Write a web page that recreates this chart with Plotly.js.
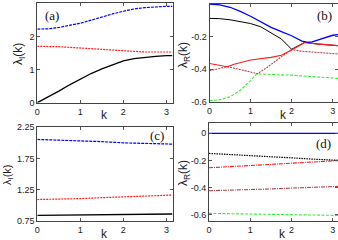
<!DOCTYPE html>
<html><head><meta charset="utf-8">
<script src="https://cdn.plot.ly/plotly-3.0.1.min.js"></script>
<style>html,body{margin:0;padding:0;background:#fff}#c{width:338px;height:240px}</style>
</head><body><div id="c"></div>
<script>
// ---- data ----
const PI = 3.14159;
// panel (a): imaginary parts
const kA = [0,0.25,0.5,0.75,1,1.25,1.5,1.75,2,2.25,2.5,2.75,3,PI];
const aBlack = [0,0.17,0.35,0.54,0.72,0.88,1.02,1.15,1.26,1.33,1.37,1.40,1.42,1.42];
const aRed   = [1.70,1.70,1.69,1.67,1.65,1.62,1.59,1.57,1.55,1.54,1.53,1.53,1.53,1.53];
const aBlue  = [2.22,2.23,2.27,2.33,2.40,2.49,2.59,2.68,2.76,2.83,2.87,2.90,2.91,2.91];
// panel (b): real parts
const kBblue = [0,0.25,0.5,0.75,1,1.25,1.5,1.75,2,2.25,2.4,2.5,2.75,3,PI];
const bBlue  = [0,-0.005,-0.02,-0.045,-0.075,-0.108,-0.143,-0.17,-0.195,-0.228,-0.235,-0.232,-0.21,-0.192,-0.188];
const kBblack = [0,0.25,0.5,0.75,1,1.25,1.5,1.75,2,2.15,2.32,2.6,3,PI];
const bBlack  = [-0.088,-0.09,-0.097,-0.107,-0.12,-0.14,-0.175,-0.215,-0.278,-0.26,-0.236,-0.245,-0.254,-0.256];
const kBred = [0,0.2,0.43,0.6,1,1.5,1.75,2,2.15,2.32,2.6,3,PI];
const bRed  = [-0.365,-0.373,-0.385,-0.37,-0.344,-0.328,-0.315,-0.282,-0.26,-0.236,-0.245,-0.254,-0.256];
const kBbrown = [0,0.2,0.43,0.7,1,1.17,1.4,1.6,1.8,2,2.25,2.5,2.75,3,PI];
const bBrown  = [-0.41,-0.397,-0.385,-0.40,-0.42,-0.428,-0.39,-0.35,-0.315,-0.28,-0.29,-0.295,-0.30,-0.305,-0.307];
const kBgreen = [0,0.25,0.5,0.75,1,1.15,1.5,2,2.5,3,PI];
const bGreen  = [-0.594,-0.588,-0.57,-0.53,-0.47,-0.428,-0.433,-0.437,-0.446,-0.455,-0.457];
// panel (c): imaginary parts
const kC = [0,0.5,1,1.5,2,2.5,3,PI];
const cBlue  = [2.055,2.045,2.035,2.02,2.0,1.99,1.98,1.98];
const cRed   = [1.09,1.095,1.105,1.12,1.135,1.15,1.16,1.162];
const cBlack = [0.835,0.84,0.845,0.85,0.853,0.856,0.858,0.858];
// panel (d): real parts
const kD = [0,0.5,1,1.5,2,2.5,3,PI];
const dBlue  = [0,0,0,0,0,0,0,0];
const dBlack = [-0.148,-0.155,-0.163,-0.172,-0.181,-0.19,-0.197,-0.199];
const dRed   = [-0.254,-0.247,-0.238,-0.229,-0.22,-0.211,-0.203,-0.201];
const dBrown = [-0.423,-0.42,-0.415,-0.41,-0.404,-0.398,-0.393,-0.391];
const dGreen = [-0.59,-0.592,-0.594,-0.597,-0.6,-0.602,-0.604,-0.605];
const xTicks = [0,1,2,3];
const panelLabels = ['(a)','(b)','(c)','(d)'];
const yTitleI = 'λ<sub>I</sub>(k)';
const yTitleR = 'λ<sub>R</sub>(k)';
const xTitle = 'k';

// ---- styles ----
const BLUE='#0000ff', RED='#ff1a1a', BLACK='#000000', BROWN='#b04848', GREEN='#33ee33';
function tr(x,y,ax,color,dash,w){
  return {x:x,y:y,xaxis:'x'+ax,yaxis:'y'+ax,mode:'lines',
    line:{color:color,dash:dash,width:w||1.2},hoverinfo:'skip',showlegend:false};
}
const data = [
  tr(kA,aBlack,'',BLACK,'solid',1.3),
  tr(kA,aRed,'',RED,'2px,1px',1.2),
  tr(kA,aBlue,'',BLUE,'3px,1px',1.2),
  tr(kBgreen,bGreen,'2',GREEN,'3px,1.5px',1.1),
  tr(kBbrown,bBrown,'2',BROWN,'2px,1px',1.1),
  tr(kBblack,bBlack,'2',BLACK,'solid',1.0),
  tr(kBred,bRed,'2',RED,'solid',1.1),
  tr(kBblue,bBlue,'2',BLUE,'solid',1.3),
  tr(kC,cBlack,'3',BLACK,'solid',1.3),
  tr(kC,cRed,'3',RED,'2px,1px',1.2),
  tr(kC,cBlue,'3',BLUE,'3px,1px',1.2),
  tr(kD,dGreen,'4',GREEN,'3px,1.5px',1.1),
  tr(kD,dBrown,'4',BROWN,'4px,1px,1px,1px',1.1),
  tr(kD,dRed,'4',RED,'4px,1px,1px,1px',1.1),
  tr(kD,dBlack,'4',BLACK,'1.5px,1px',1.2),
  tr(kD,dBlue,'4',BLUE,'solid',1.3)
];
const tf = {family:'Liberation Sans, Arial, sans-serif', size:9, color:'#222'};
function xax(dom, range, anchor){
  return {domain:dom, range:range, anchor:anchor, tickvals:xTicks, ticks:'inside', ticklen:3,
    tickcolor:'#555', showline:true, linecolor:'#444', linewidth:1, mirror:'ticks',
    showgrid:false, zeroline:false, tickfont:tf};
}
function yax(dom, range, anchor, tv, tt){
  return {domain:dom, range:range, anchor:anchor, tickvals:tv, ticktext:tt, ticks:'inside', ticklen:3,
    tickcolor:'#555', showline:true, linecolor:'#444', linewidth:1, mirror:'ticks',
    showgrid:false, zeroline:false, tickfont:tf};
}
const xa=[37.3/338,172.5/338], xb=[209.5/338,1], xd=[209/338,1];
const px = (x,y)=>({xref:'paper',yref:'paper',x:x/338,y:1-y/240,xanchor:'center',yanchor:'middle',showarrow:false});
const titleFont = {family:'Liberation Sans, Arial, sans-serif', size:12, color:'#222'};
const annotations = [
  [52,15,0],[324,15,1],[157,135,2],[323,143,3]
].map(p=>Object.assign(px(p[0],p[1]),{text:panelLabels[p[2]],
   font:{family:'Liberation Serif, Times New Roman, serif',size:13,color:'#111'}}));
[[19,54,yTitleI,12],[184,55,yTitleR,12],[8,175,yTitleI,11],[184,173,yTitleR,12]].forEach(p=>{
  annotations.push(Object.assign(px(p[0],p[1]),{text:p[2],textangle:-90,
    font:Object.assign({},titleFont,{size:p[3]})}));
});
[[105,115],[283,115],[105,234],[282,234]].forEach(p=>{
  annotations.push(Object.assign(px(p[0],p[1]),{text:xTitle,font:titleFont}));
});
const layout = {
  width:338, height:240, margin:{l:0,r:0,t:0,b:0}, paper_bgcolor:'#fff', plot_bgcolor:'#fff',
  xaxis: xax(xa,[0,PI],'y'),
  yaxis: yax([1-102.7/240,1-3.3/240],[0,3],'x',[0,1,2,3],['0','1','2','3']),
  xaxis2: xax(xb,[0,3.13],'y2'),
  yaxis2: yax([1-101.7/240,1-4/240],[-0.6,0],'x2',[0,-0.2,-0.4,-0.6],['0','-0.2','-0.4','-0.6']),
  xaxis3: xax(xa,[0,PI],'y3'),
  yaxis3: yax([1-220.7/240,1-127.3/240],[0.75,2.25],'x3',[0.75,1.25,1.75,2.25],['0.75','1.25','1.75','2.25']),
  xaxis4: xax(xd,[0,3.13],'y4'),
  yaxis4: yax([1-220.7/240,1-123/240],[-0.644,0.076],'x4',[0,-0.2,-0.4,-0.6],['0','-0.2','-0.4','-0.6']),
  annotations: annotations
};
Plotly.newPlot('c', data, layout, {staticPlot:true, displayModeBar:false});
</script>
</body></html>
